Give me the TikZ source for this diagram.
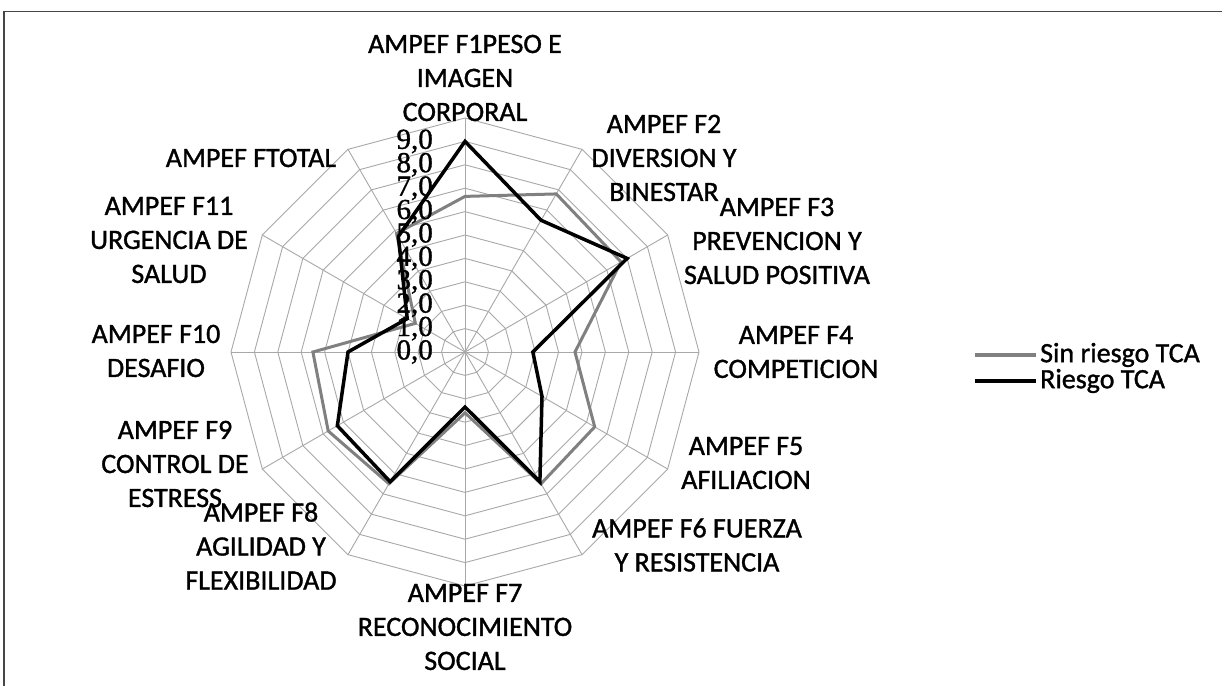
\documentclass[tikz,border=0pt]{standalone}
\usepackage{fontspec}
\setmainfont{Carlito}
\newfontfamily\labfont[FakeBold=1.2]{Carlito}
\newfontfamily\numfont[FakeBold=1.2]{Liberation Serif}
\definecolor{gridgray}{RGB}{168,168,168}
\definecolor{sergray}{RGB}{128,128,128}
\definecolor{framec}{RGB}{70,70,70}
\begin{document}
\begin{tikzpicture}[x=1pt,y=-1pt,
  grid/.style={draw=gridgray, line width=0.9pt},
  lab/.style={align=center, font=\labfont\fontsize{28}{34}\selectfont, inner sep=0pt},
  num/.style={anchor=east, font=\numfont\fontsize{29}{29}\selectfont, inner sep=0pt},
  sinr/.style={draw=sergray, line width=3pt, line join=miter},
  ries/.style={draw=black, line width=3.5pt, line join=miter},
  legtext/.style={anchor=west, font=\labfont\fontsize{28}{34}\selectfont, inner sep=0pt}]
\useasboundingbox (0,0) rectangle (1222,685);
\fill[white] (0,0) rectangle (1222,685);
\draw[framec, line width=1.3pt] (4,700) -- (4,11.5) -- (1240,11.5);
\begin{scope}[shift={(465,352)}, x=23.4pt, y=23.4pt]
  \coordinate (C) at (0,0);
  \foreach \r in {1,...,10}
    \draw[grid] (90:\r) -- (60:\r) -- (30:\r) -- (0:\r) -- (-30:\r) -- (-60:\r) -- (-90:\r) -- (-120:\r) -- (-150:\r) -- (180:\r) -- (150:\r) -- (120:\r) -- cycle;
  \foreach \a in {0,30,...,330}
    \draw[grid] (C) -- (\a:10);
  % series Sin riesgo TCA
  \coordinate (s1) at (90:6.65);  \coordinate (s2) at (60:7.8);
  \coordinate (s3) at (30:7.7);   \coordinate (s4) at (0:4.7);
  \coordinate (s5) at (-30:6.4);  \coordinate (s6) at (-60:6.5);
  \coordinate (s7) at (-90:2.6);  \coordinate (s8) at (-120:6.5);
  \coordinate (s9) at (-150:6.75);\coordinate (s10) at (180:6.5);
  \coordinate (s11) at (150:2.45);\coordinate (s12) at (120:5.85);
  \draw[sinr] (s1) -- (s2) -- (s3) -- (s4) -- (s5) -- (s6) -- (s7) -- (s8) -- (s9) -- (s10) -- (s11) -- (s12) -- cycle;
  % series Riesgo TCA
  \coordinate (r1) at (90:9.0);   \coordinate (r2) at (60:6.5);
  \coordinate (r3) at (30:8.0);   \coordinate (r4) at (0:2.9);
  \coordinate (r5) at (-30:3.8);  \coordinate (r6) at (-60:6.4);
  \coordinate (r7) at (-90:2.35); \coordinate (r8) at (-120:6.4);
  \coordinate (r9) at (-150:6.3); \coordinate (r10) at (180:5.0);
  \coordinate (r11) at (150:2.85);\coordinate (r12) at (120:5.7);
  \draw[ries] (r1) -- (r2) -- (r3) -- (r4) -- (r5) -- (r6) -- (r7) -- (r8) -- (r9) -- (r10) -- (r11) -- (r12) -- cycle;
\end{scope}
% axis numbers
\foreach \v [count=\i from 0] in {0,...,9}
  \node[num] (n\i) at (433,{352-23.4*\v}) {\v,0};
% category labels
\node[lab] (l1) at (465,78) {AMPEF F1PESO E\\IMAGEN\\CORPORAL};
\node[lab] (l2) at (664,158) {AMPEF F2\\DIVERSION Y\\BINESTAR};
\node[lab] (l3) at (777,241) {AMPEF F3\\PREVENCION Y\\SALUD POSITIVA};
\node[lab] (l4) at (796,352) {AMPEF F4\\COMPETICION};
\node[lab] (l5) at (746,463) {AMPEF F5\\AFILIACION};
\node[lab] (l6) at (697,545) {AMPEF F6 FUERZA\\Y RESISTENCIA};
\node[lab] (l7) at (465,627) {AMPEF F7\\RECONOCIMIENTO\\SOCIAL};
\node[lab] (l8) at (261,546) {AMPEF F8\\AGILIDAD Y\\FLEXIBILIDAD};
\node[lab] (l9) at (175,464) {AMPEF F9\\CONTROL DE\\ESTRESS};
\node[lab] (l10) at (156,351) {AMPEF F10\\DESAFIO};
\node[lab] (l11) at (169,240) {AMPEF F11\\URGENCIA DE\\SALUD};
\node[lab] (l12) at (251,158) {AMPEF FTOTAL};
% legend
\coordinate (g1a) at (975,355); \coordinate (g1b) at (1036,355);
\coordinate (g2a) at (975,381); \coordinate (g2b) at (1036,381);
\draw[sinr, line width=4pt] (g1a) -- (g1b);
\draw[ries, line width=4pt] (g2a) -- (g2b);
\node[legtext] (t1) at (1040,355) {Sin riesgo TCA};
\node[legtext] (t2) at (1040,381) {Riesgo TCA};
\end{tikzpicture}
\end{document}
